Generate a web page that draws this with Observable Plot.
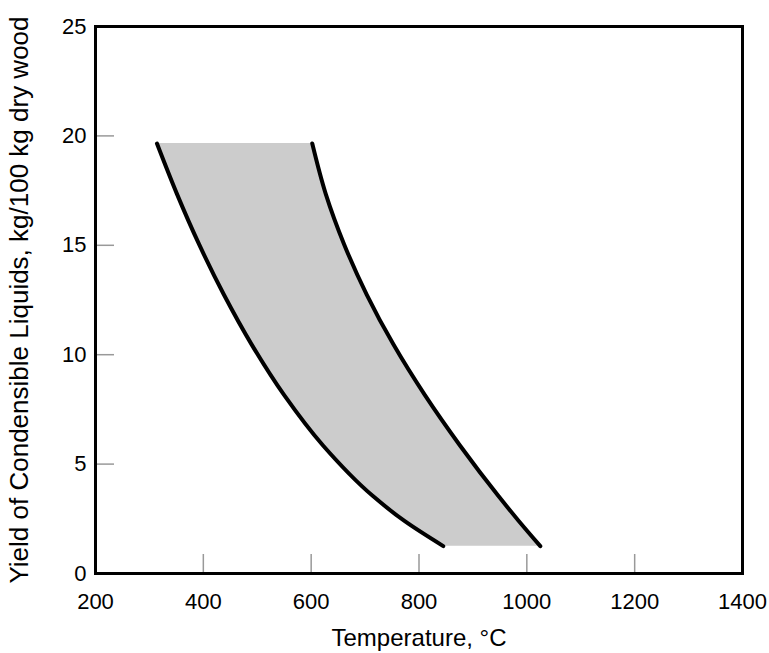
<!DOCTYPE html>
<html>
<head>
<meta charset="utf-8">
<script src="https://cdn.jsdelivr.net/npm/d3@7"></script>
<script src="https://cdn.jsdelivr.net/npm/@observablehq/plot@0.6"></script>
<style>
  html, body { margin: 0; padding: 0; background: #fff; }
  #chart svg { display: block; }
</style>
</head>
<body>
<div id="chart"></div>
<script>
// Yield of condensible liquids (kg/100 kg dry wood) vs temperature (°C)
const yieldLevels = [19.65, 17.35, 15.05, 12.75, 10.45, 8.15, 5.85, 3.55, 2.4, 1.25];
const lowTemp     = [314, 351, 392, 438, 490, 550, 622, 714, 773, 845];
const highTemp    = [602, 627, 661, 703, 753, 811, 876, 947, 985, 1025];

const xTickValues = [200, 400, 600, 800, 1000, 1200, 1400];
const xInnerTicks = [400, 600, 800, 1000, 1200];
const yTickValues = [0, 5, 10, 15, 20, 25];
const yInnerTicks = [5, 10, 15, 20];

const xTitle = "Temperature, °C";
const yTitle = "Yield of Condensible Liquids, kg/100 kg dry wood";

const band = yieldLevels.map((y, i) => ({yield: y, low: lowTemp[i], high: highTemp[i]}));

const chart = Plot.plot({
  width: 769,
  height: 653,
  marginLeft: 95,
  marginRight: 27,
  marginTop: 26,
  marginBottom: 80,
  style: {fontFamily: "'Liberation Sans', Arial, sans-serif", fontSize: "22px", color: "#000", background: "#fff"},
  x: {domain: [200, 1400], axis: null},
  y: {domain: [0, 25], axis: null},
  marks: [
    Plot.areaX(band, {y: "yield", x1: "low", x2: "high", fill: "#cccccc", curve: "monotone-y"}),
    Plot.lineX(band, {x: "low", y: "yield", stroke: "#000", strokeWidth: 4, curve: "monotone-y"}),
    Plot.lineX(band, {x: "high", y: "yield", stroke: "#000", strokeWidth: 4, curve: "monotone-y"}),
    // inward tick marks
    Plot.axisX({ticks: xInnerTicks, tickSize: -19, stroke: "#999", strokeWidth: 1.5, text: null, label: null}),
    Plot.axisY({ticks: yInnerTicks, tickSize: -19, stroke: "#999", strokeWidth: 1.5, text: null, label: null}),
    // tick labels
    Plot.axisX({ticks: xTickValues, tickSize: 0, tickPadding: 20, fontSize: 22, tickFormat: d => String(d), label: null}),
    Plot.axisY({ticks: yTickValues, tickSize: 0, tickPadding: 9, fontSize: 22, tickFormat: d => String(d), label: null}),
    // axis titles
    Plot.axisX({ticks: xTickValues, tickSize: 0, text: null, fontSize: 24,
      label: xTitle, labelAnchor: "center", labelArrow: "none", labelOffset: 72}),
    Plot.axisY({ticks: yTickValues, tickSize: 0, text: null, fontSize: 26,
      label: yTitle, labelAnchor: "center", labelArrow: "none", labelOffset: 86}),
    Plot.frame({stroke: "#000", strokeWidth: 3})
  ]
});
document.getElementById("chart").appendChild(chart);
</script>
</body>
</html>
